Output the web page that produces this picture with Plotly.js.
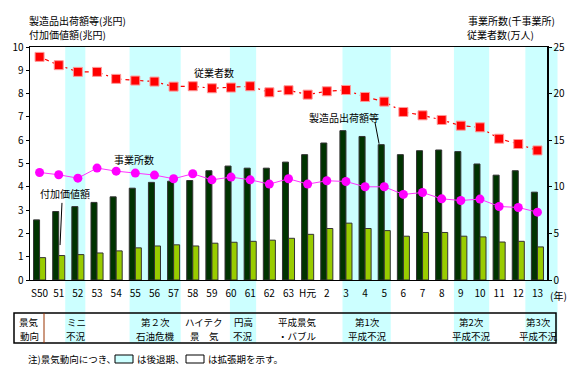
<!DOCTYPE html>
<html><head><meta charset="utf-8">
<script src="https://cdn.plot.ly/plotly-3.0.1.min.js"></script>
<style>html,body{margin:0;padding:0;background:#fff}#c{width:576px;height:368px}</style>
</head><body><div id="c"></div>
<script>
// ---- data ----
const categories = ['S50','51','52','53','54','55','56','57','58','59','60','61','62','63','H元','2','3','4','5','6','7','8','9','10','11','12','13'];
const shipments = [2.58,2.94,3.15,3.33,3.57,3.94,4.19,4.24,4.27,4.69,4.89,4.80,4.80,5.06,5.38,5.88,6.41,6.16,5.81,5.38,5.55,5.58,5.51,4.98,4.50,4.69,3.77];
const valueAdded = [0.96,1.05,1.09,1.16,1.25,1.38,1.46,1.51,1.46,1.58,1.62,1.66,1.71,1.79,1.96,2.21,2.44,2.21,2.12,1.88,2.04,2.04,1.88,1.85,1.63,1.66,1.42];
const establishments = [11.54,11.29,10.93,12.01,11.68,11.47,11.26,10.86,11.40,10.75,11.04,10.75,10.29,10.86,10.29,10.65,10.57,10.0,10.0,9.18,9.39,8.71,8.53,8.68,7.89,7.78,7.28];
const employees = [23.94,23.05,22.33,22.33,21.58,21.40,21.29,20.75,20.79,20.57,20.65,20.79,20.14,20.36,19.89,20.25,20.39,19.64,19.14,18.03,17.67,17.17,16.56,16.38,15.16,14.59,13.90];
// recession periods (in year-index units, fractional because they start/end mid-year)
const recessionStart = [1.34,4.70,9.94,15.82,21.64,25.37];
const recessionEnd   = [2.39,7.37,11.31,18.34,23.48,27.05];
const phaseLine1 = ['ミニ','第２次','ハイテク','円高','平成景気','第1次','第2次','第3次'];
const phaseLine2 = ['不況','石油危機','景　気','不況','・バブル','平成不況','平成不況','平成不況'];

// ---- layout helpers ----
const W=576,H=368,L=30,R=29,T=47,B=88;
const pw=W-L-R, ph=H-T-B;
const px = x => (x-L)/pw;
const py = y => (H-B-y)/ph;
const nCat = categories.length;
const dom = v => (v+0.5)/nCat;
const FONT = '"Noto Sans CJK JP", "Noto Sans", sans-serif';
const CYAN = '#ccffff';

const traces = [
  {type:'bar', x:categories, y:shipments, name:'製造品出荷額等', yaxis:'y',
   marker:{color:'#003300', line:{color:'#333333', width:1}}},
  {type:'bar', x:categories, y:valueAdded, name:'付加価値額', yaxis:'y',
   marker:{color:'#99cc00', line:{color:'#333333', width:1}}},
  {type:'scatter', mode:'lines+markers', x:categories, y:establishments, yaxis:'y2', name:'事業所数',
   line:{color:'#ff33ff', width:1}, marker:{color:'#ff00ff', size:9, symbol:'circle'}},
  {type:'scatter', mode:'lines+markers', x:categories, y:employees, yaxis:'y2', name:'従業者数',
   line:{color:'#ff0000', width:1.2, dash:'2px,4px,4px,4px'}, marker:{color:'#ff0000', size:9, symbol:'square', line:{color:'#ff9999', width:1}}}
];

const shapes = [];
for (let i=0;i<recessionStart.length;i++){
  shapes.push({type:'rect', xref:'x domain', yref:'paper', x0:dom(recessionStart[i]), x1:dom(recessionEnd[i]),
    y0:py(343), y1:1, fillcolor:CYAN, line:{width:0}, layer:'below'});
}
// table frame
shapes.push({type:'rect', xref:'paper', yref:'paper', x0:px(14), x1:px(556), y0:py(343), y1:py(313), line:{color:'#000', width:1.5}, fillcolor:'rgba(0,0,0,0)'});
shapes.push({type:'line', xref:'paper', yref:'paper', x0:px(44), x1:px(44), y0:py(343), y1:py(313), line:{color:'#993300', width:1}});
// footnote boxes
shapes.push({type:'rect', xref:'paper', yref:'paper', x0:px(115), x1:px(133), y0:py(363), y1:py(355), fillcolor:CYAN, line:{color:'#000', width:1}});
shapes.push({type:'rect', xref:'paper', yref:'paper', x0:px(186), x1:px(204), y0:py(363), y1:py(355), fillcolor:'#fff', line:{color:'#000', width:1}});
// leader lines
shapes.push({type:'line', xref:'x', yref:'y', x0:1.17, y0:3.31, x1:1.07, y1:1.5, line:{color:'#000', width:1}});
shapes.push({type:'line', xref:'x', yref:'y', x0:17.52, y0:6.75, x1:17.73, y1:5.85, line:{color:'#000', width:1}});

const ann = [];
const tf = {family:FONT, size:10, color:'#000'};
function a(x,y,text,opts){ ann.push(Object.assign({xref:'paper', yref:'paper', x:px(x), y:py(y), text, showarrow:false, font:tf, xanchor:'center', yanchor:'middle'}, opts||{})); }
a(27,21,'製造品出荷額等(兆円)',{xanchor:'left'});
a(27,34,'付加価値額(兆円)',{xanchor:'left'});
a(557,21,'事業所数(千事業所)',{xanchor:'right'});
a(500,34,'従業者数(万人)');
a(558,295,'(年)');
const tf2 = {family:FONT, size:9.5, color:'#000'};
a(29,322,'景気',{font:tf2});
a(29,336,'動向',{font:tf2});
const phaseX = [76,155,204,243,297,367,471,538];
phaseLine1.forEach((t,i)=>a(phaseX[i],322,t,{font:tf2}));
phaseLine2.forEach((t,i)=>a(phaseX[i],336,t,{font:tf2}));
const tf3 = {family:FONT, size:9.5, color:'#000'};
a(26,359,'注)景気動向につき、',{xanchor:'left', font:tf3});
a(135,359,'は後退期、',{xanchor:'left', font:tf3});
a(206,359,'は拡張期を示す。',{xanchor:'left', font:tf3});
// series labels
ann.push({xref:'x', yref:'y', x:9.11, y:8.9, text:'従業者数', showarrow:false, font:tf});
ann.push({xref:'x', yref:'y', x:4.93, y:5.16, text:'事業所数', showarrow:false, font:tf});
ann.push({xref:'x', yref:'y', x:1.33, y:3.7, text:'付加価値額', showarrow:false, font:tf});
ann.push({xref:'x', yref:'y', x:15.9, y:6.97, text:'製造品出荷額等', showarrow:false, font:tf});

const layout = {
  width:W, height:H, margin:{l:L, r:R, t:T, b:B, pad:0},
  paper_bgcolor:'#fff', plot_bgcolor:'rgba(0,0,0,0)',
  showlegend:false, barmode:'group', bargap:0.37, bargroupgap:0,
  font:{family:FONT, size:10, color:'#000'},
  xaxis:{type:'category', range:[-0.5,26.5], showline:true, linecolor:'#000', linewidth:1, mirror:true,
    ticks:'', showgrid:false, zeroline:false, tickfont:{family:FONT,size:10}, tickangle:0, ticklabelstandoff:4},
  yaxis:{range:[0,10], dtick:1, showline:true, linecolor:'#000', linewidth:1.5, ticks:'outside', ticklen:3,
    tickcolor:'#000', showgrid:false, zeroline:false, tickfont:{family:FONT,size:10}},
  yaxis2:{range:[0,25], dtick:5, overlaying:'y', side:'right', showline:true, linecolor:'#000', linewidth:1.5,
    ticks:'outside', ticklen:3, tickcolor:'#000', showgrid:false, zeroline:false, tickfont:{family:FONT,size:10}},
  shapes, annotations:ann
};
Plotly.newPlot('c', traces, layout, {staticPlot:true, displayModeBar:false});
</script></body></html>
